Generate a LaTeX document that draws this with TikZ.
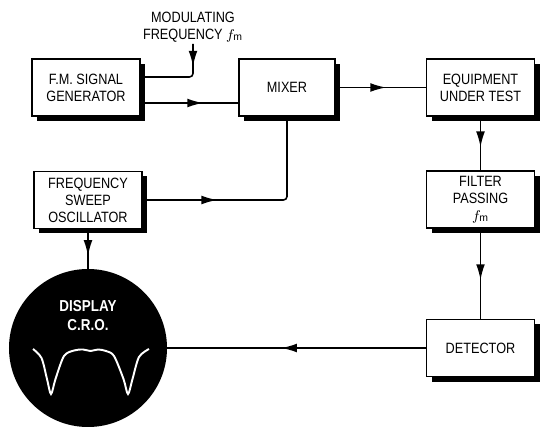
\documentclass[tikz,border=0pt]{standalone}
\usepackage{fontspec}
\setmainfont{Liberation Sans}
\newfontfamily\blockfont[FakeStretch=0.85]{Liberation Sans}
\usetikzlibrary{arrows.meta,decorations.markings}

\begin{document}
\begin{tikzpicture}[font=\blockfont\fontsize{8.5}{9.6}\selectfont,
    >={Latex[length=9pt,width=5pt]},x=1cm,y=1cm]
    \tikzset{
        block/.style={
            draw,line width=0.7pt,fill=white,
            minimum width=2.16cm,minimum height=1.14cm,
            align=center,inner sep=1pt,
            preaction={draw=none,fill=black,
                transform canvas={shift={(0.1,-0.1)}}}
        },
        flow/.style={
            line width=0.9pt,rounded corners=2pt,
            postaction={decorate},
            decoration={markings,mark=at position #1 with {\arrow{>}}}
        },
        flow/.default=0.6
    }

    \useasboundingbox (0,0) rectangle (10.92,8.52);

    \node[block] (fmgen) at (1.72,6.77) {F.M. SIGNAL\\GENERATOR};
    \node[block,minimum width=1.92cm] (mixer) at (5.74,6.77) {MIXER};
    \node[block] (eut) at (9.61,6.77) {EQUIPMENT\\UNDER TEST};
    \node[block] (filter) at (9.61,4.53) {FILTER\\PASSING\\$f_\mathrm{m}$};
    \node[block] (detector) at (9.61,1.56) {DETECTOR};
    \node[block] (sweep) at (1.76,4.52) {FREQUENCY\\SWEEP\\OSCILLATOR};

    \node[anchor=south,align=center,inner sep=1pt] (mod) at (3.86,7.64)
        {MODULATING\\FREQUENCY $f_\mathrm{m}$};

    % the c.r.o. screen
    \node[circle,fill=black,minimum size=3.16cm,inner sep=0pt] (cro) at (1.76,1.56) {};
    \node[text=white,align=center,
        font=\blockfont\bfseries\fontsize{9}{10.8}\selectfont] (cro-label) at (1.76,2.20)
        {DISPLAY\\C.R.O.};
    \draw[white,line width=1.1pt,shift={(cro.center)}] plot[smooth,tension=0.5]
        coordinates {(-1.10,-0.02) (-0.93,-0.20) (-0.82,-0.62) (-0.74,-0.92)
        (-0.65,-0.62) (-0.48,-0.16) (-0.28,-0.05) (-0.10,-0.03) (0.05,-0.06)
        (0.20,-0.03) (0.36,-0.06) (0.52,-0.16) (0.71,-0.62) (0.80,-0.92)
        (0.89,-0.62) (1.02,-0.18) (1.22,-0.02)};

    \draw[flow=0.27] (mod.south) |- ([yshift=0.21cm]fmgen.east);
    \draw[flow=0.64] ([yshift=-0.31cm]fmgen.east) -- ([yshift=-0.31cm]fmgen.east -| mixer.west);
    \draw[flow=0.33] (sweep.east) -| (mixer.south);
    \foreach \a/\b/\p in {
        mixer/eut/0.56,eut/filter/0.57,filter/detector/0.57,
        detector/cro/0.56,sweep/cro/0.68}{
        \draw[flow=\p] (\a) -- (\b);
    }
\end{tikzpicture}
\end{document}
